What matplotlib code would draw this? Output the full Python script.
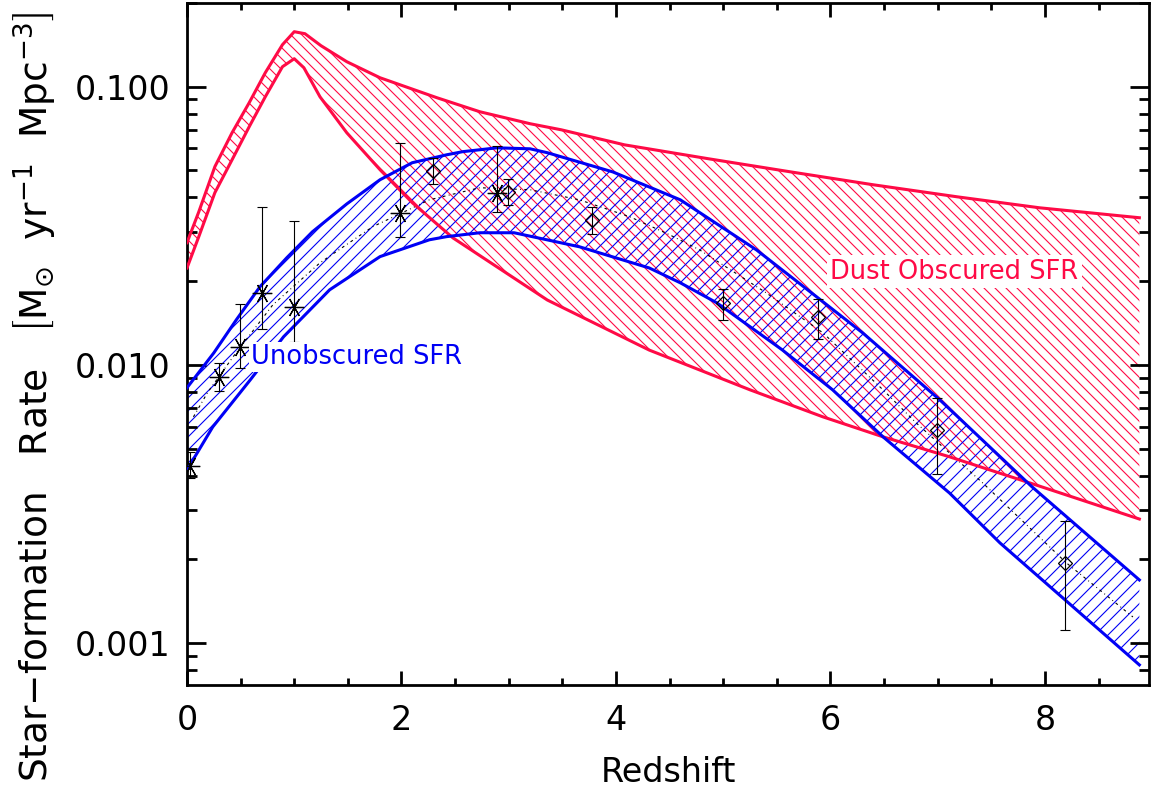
import numpy as np
import matplotlib
matplotlib.use('Agg')
import matplotlib.pyplot as plt
from matplotlib.collections import LineCollection
from matplotlib.ticker import FixedLocator, FixedFormatter, MultipleLocator, LogLocator, NullFormatter

plt.rcParams['font.family'] = 'DejaVu Sans'
plt.rcParams['mathtext.fontset'] = 'dejavusans'

red = '#ff0a46'
blue = '#0000f5'

# Dust obscured SFR band (upper and lower edge)
dust_hi_z = [0, 0.11, 0.26, 0.42, 0.58, 0.73, 0.89, 1.0, 1.1, 1.25, 1.49, 1.8, 2.33,
             2.73, 3.2, 3.49, 4.08, 4.86, 5.63, 6.4, 7.18, 7.95, 8.88]
dust_hi = [0.0275, 0.0355, 0.0516, 0.0683, 0.0876, 0.1123, 0.1416, 0.1577, 0.1551, 0.1404,
           0.1230, 0.1077, 0.0913, 0.0813, 0.0736, 0.0700, 0.0618, 0.0551, 0.0494, 0.0444,
           0.0402, 0.0367, 0.0338]
dust_lo_z = [0, 0.11, 0.26, 0.42, 0.58, 0.73, 0.89, 1.0, 1.09, 1.24, 1.49, 1.8, 2.1, 2.48,
             3.36, 4.31, 5.25, 5.93, 6.49, 7.11, 7.86, 8.88]
dust_lo = [0.0223, 0.0289, 0.0416, 0.0546, 0.0718, 0.0920, 0.1180, 0.1261, 0.1170, 0.0920,
           0.0683, 0.0503, 0.0383, 0.0286, 0.0171, 0.0113, 0.00813, 0.00650, 0.00551,
           0.00467, 0.00376, 0.00279]

# Unobscured SFR band
unob_hi_z = [0, 0.25, 0.46, 0.68, 0.93, 1.17, 1.49, 1.8, 2.1, 2.42, 2.57, 2.89, 3.2, 3.36,
             3.97, 4.6, 5.31, 5.87, 6.3, 7.02, 7.88, 8.88]
unob_hi = [0.00827, 0.01104, 0.01452, 0.01908, 0.02426, 0.0301, 0.0379, 0.0463, 0.0533,
           0.0569, 0.0584, 0.0603, 0.0598, 0.0579, 0.0494, 0.0392, 0.0259, 0.01757, 0.01303,
           0.00748, 0.00364, 0.001685]
unob_lo_z = [0, 0.24, 0.59, 0.9, 1.33, 1.8, 2.26, 2.42, 2.73, 3.05, 3.66, 4.31, 4.6, 4.94,
             5.55, 6.02, 6.49, 7.11, 7.58, 8.88]
unob_lo = [0.00419, 0.00598, 0.00883, 0.01261, 0.01861, 0.0245, 0.02816, 0.0289, 0.02985,
           0.02985, 0.02657, 0.0223, 0.01972, 0.01671, 0.01132, 0.00813, 0.00551, 0.00346,
           0.00229, 0.000834]

# total model (dotted)
model_z = [0.06, 0.19, 0.43, 0.8, 1.24, 1.73, 2.26, 2.73, 3.2, 3.66, 4.13, 4.5, 4.78, 5.4,
           5.93, 6.49, 6.8, 7.42, 8.2, 8.82]
model_sfr = [0.0065, 0.00793, 0.01069, 0.01643, 0.02327, 0.03136, 0.0392, 0.04333, 0.04262,
             0.0392, 0.03406, 0.02935, 0.0259, 0.01816, 0.01303, 0.00813, 0.00618, 0.00376,
             0.00194, 0.00124]

# measurements: asterisks
ast_z = [0.03, 0.30, 0.49, 0.70, 1.0, 1.99, 2.89]
ast_sfr = [0.00434, 0.00906, 0.0116, 0.01815, 0.01618, 0.0352, 0.0416]
ast_lo = [0.00393, 0.00805, 0.00975, 0.01346, 0.0121, 0.0288, 0.0355]
ast_hi = [0.00486, 0.01016, 0.01656, 0.0370, 0.0330, 0.0629, 0.0614]

# measurements: diamonds
dia_z = [2.29, 2.99, 3.78, 5.0, 5.88, 6.99, 8.19]
dia_sfr = [0.0499, 0.0419, 0.0333, 0.0167, 0.0149, 0.00583, 0.00194]
dia_lo = [0.0448, 0.0377, 0.0296, 0.01452, 0.0124, 0.00406, 0.00111]
dia_hi = [0.0556, 0.0466, 0.0370, 0.01875, 0.01727, 0.0076, 0.00275]

x_ticks = [0, 2, 4, 6, 8]
y_ticks = [0.001, 0.01, 0.1]
y_ticklabels = ['0.001', '0.010', '0.100']

fig = plt.figure(figsize=(11.51, 7.92), dpi=100)
ax = fig.add_axes([187 / 1151, 107 / 792, 962 / 1151, 682 / 792])
ax.set_yscale('log')
ax.set_xlim(0, 8.97)
ax.set_ylim(7.06e-4, 0.2)


def hatch_band(z1, v1, z2, v2, color, step, sign):
    zz = np.r_[z1, z2[::-1]]
    vv = np.r_[v1, v2[::-1]]
    poly = ax.fill(zz, vv, facecolor='none', edgecolor='none')[0]
    bb = ax.get_window_extent()
    w, h = bb.width, bb.height
    offs = np.arange(-w, h + w, step)
    segs = [[(0, c / h), (1, (c + sign * w) / h)] for c in offs]
    lc = LineCollection(segs, colors=color, linewidths=0.8,
                        transform=ax.transAxes, zorder=1)
    ax.add_collection(lc, autolim=False)
    lc.set_clip_path(poly)


hatch_band(dust_hi_z, dust_hi, dust_lo_z, dust_lo, red, 11.0, -1)
hatch_band(unob_hi_z, unob_hi, unob_lo_z, unob_lo, blue, 13.0, 1)

ax.plot(dust_hi_z, dust_hi, color=red, lw=2.2, zorder=3)
ax.plot(dust_lo_z, dust_lo, color=red, lw=2.2, zorder=3)
ax.plot(unob_hi_z, unob_hi, color=blue, lw=2.2, zorder=3)
ax.plot(unob_lo_z, unob_lo, color=blue, lw=2.2, zorder=3)

ax.plot(model_z, model_sfr, color='k', lw=0.8, ls=(0, (2.5, 3, 0.8, 3)), zorder=2)

a_sfr = np.array(ast_sfr)
ax.errorbar(ast_z, a_sfr, yerr=[a_sfr - np.array(ast_lo), np.array(ast_hi) - a_sfr],
            fmt='none', ecolor='k', elinewidth=0.8, capsize=3.6, capthick=0.8, zorder=4)
ax.plot(ast_z, a_sfr, ls='none', marker=(6, 2, 90), ms=14, mec='k', mew=0.9, zorder=5)

d_sfr = np.array(dia_sfr)
ax.errorbar(dia_z, d_sfr, yerr=[d_sfr - np.array(dia_lo), np.array(dia_hi) - d_sfr],
            fmt='none', ecolor='k', elinewidth=0.8, capsize=3.6, capthick=0.8, zorder=4)
ax.plot(dia_z, d_sfr, ls='none', marker='D', ms=7.5, mfc='none', mec='k', mew=0.9, zorder=5)

ax.text(0.6, 0.0107, 'Unobscured SFR', color=blue, fontsize=18.5, ha='left', va='center',
        zorder=6, bbox=dict(fc='white', ec='none', pad=1.5))
ax.text(6.0, 0.0216, 'Dust Obscured SFR', color=red, fontsize=18.5, ha='left', va='center',
        zorder=6, bbox=dict(fc='white', ec='none', pad=2.5))

# ticks
ax.xaxis.set_major_locator(FixedLocator(x_ticks))
ax.xaxis.set_minor_locator(MultipleLocator(0.5))
ax.yaxis.set_major_locator(FixedLocator(y_ticks))
ax.yaxis.set_major_formatter(FixedFormatter(y_ticklabels))
ax.yaxis.set_minor_locator(LogLocator(base=10, subs=np.arange(2, 10)))
ax.yaxis.set_minor_formatter(NullFormatter())
ax.tick_params(which='both', direction='in', top=True, right=True, width=2)
ax.tick_params(axis='x', which='major', length=10, labelsize=24, pad=14)
ax.tick_params(axis='x', which='minor', length=5)
ax.tick_params(axis='y', which='major', length=14, labelsize=24, pad=12)
ax.tick_params(axis='y', which='minor', length=7)
for s in ax.spines.values():
    s.set_linewidth(2)

fig.text(668 / 1151, 1 - 772 / 792, 'Redshift', ha='center', va='center', fontsize=24)
fig.text(35 / 1151, 1 - 397 / 792,
         r'Star$-$formation   Rate   $\left[\mathrm{M_{\odot}\ \ yr^{-1}\ \ Mpc^{-3}}\right]$',
         rotation=90, ha='center', va='center', fontsize=27)

fig.savefig('out.png', dpi=100)
